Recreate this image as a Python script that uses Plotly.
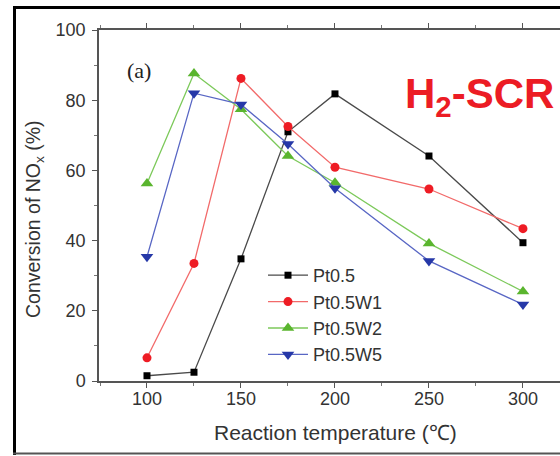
import plotly.graph_objects as go

# Reaction temperatures (°C) and NOx conversion (%) per catalyst
temperature = [100, 125, 150, 175, 200, 250, 300]
pt05 = [1.5, 2.5, 34.8, 71.0, 81.8, 64.1, 39.4]
pt05w1 = [6.6, 33.5, 86.2, 72.5, 60.9, 54.7, 43.4]
pt05w2 = [56.3, 87.6, 77.4, 64.1, 56.5, 39.2, 25.5]
pt05w5 = [35.4, 82.0, 78.8, 67.5, 54.9, 34.2, 21.8]

series_names = ["Pt0.5", "Pt0.5W1", "Pt0.5W2", "Pt0.5W5"]
x_ticks = [100, 150, 200, 250, 300]
y_ticks = [0, 20, 40, 60, 80, 100]

W, H = 560, 456
ML, MR, MT, MB = 99, 0, 30, 75
PW, PH = W - ML - MR, H - MT - MB


def px(x):
    return (x - ML) / PW


def py(y):
    return (H - MB - y) / PH


styles = [
    dict(line="#4a4a4a", marker="#000000", symbol="square", size=7),
    dict(line="#f26a6a", marker="#ee1c24", symbol="circle", size=9),
    dict(line="#7cc95a", marker="#5ab52e", symbol="triangle-up", size=11),
    dict(line="#5866c4", marker="#2638a8", symbol="triangle-down", size=11),
]

fig = go.Figure()
for name, vals, st in zip(series_names, [pt05, pt05w1, pt05w2, pt05w5], styles):
    fig.add_trace(go.Scatter(
        x=temperature, y=vals, name=name, mode="lines+markers",
        line=dict(color=st["line"], width=1.3),
        marker=dict(color=st["marker"], symbol=st["symbol"], size=st["size"],
                    line=dict(width=0)),
    ))

axis_font = dict(family="Liberation Sans, Arial, sans-serif", size=18, color="#333333")

fig.update_xaxes(
    range=[74.47, 319.7], tickvals=x_ticks, showgrid=False, zeroline=False,
    showline=True, linecolor="#555555", linewidth=1.5, mirror="ticks",
    ticks="outside", ticklen=5, tickwidth=1.2, tickcolor="#555555",
    minor=dict(dtick=25, tick0=0, ticks="outside", ticklen=3, tickcolor="#777777"),
    tickfont=axis_font, ticklabelstandoff=-4,
)
fig.update_yaxes(
    range=[0, 100], tickvals=y_ticks, showgrid=False, zeroline=False,
    showline=True, linecolor="#555555", linewidth=1.5,
    ticks="outside", ticklen=5, tickwidth=1.2, tickcolor="#555555",
    minor=dict(dtick=10, tick0=0, ticks="outside", ticklen=3, tickcolor="#777777"),
    tickfont=axis_font, ticklabelstandoff=3,
)

annotations = [
    dict(text="(a)", x=px(139), y=py(71), xanchor="center", yanchor="middle",
         font=dict(family="Liberation Serif, Times New Roman, serif", size=22, color="#222222")),
    dict(text="<b>H<sub>2</sub>-SCR</b>", x=px(403), y=py(68), xanchor="left", yanchor="top",
         font=dict(family="Liberation Sans, Arial, sans-serif", size=42, color="#ec1c24")),
    dict(text="Reaction temperature (℃)", x=px(335), y=py(432), xanchor="center", yanchor="middle",
         font=dict(family="Liberation Sans, Arial, sans-serif", size=21, color="#333333")),
    dict(text="Conversion of NO<sub>x</sub> (%)", x=px(34), y=py(219), xanchor="center",
         yanchor="middle", textangle=-90,
         font=dict(family="Liberation Sans, Arial, sans-serif", size=19.5, color="#333333")),
]
for a in annotations:
    a.update(xref="paper", yref="paper", showarrow=False)

# outer frame around the panel
frame = [
    dict(x0=px(14.5), x1=px(14.5), y0=py(6), y1=py(455)),
    dict(x0=px(13), x1=px(W + 5), y0=py(7.5), y1=py(7.5)),
]
shapes = [dict(type="line", xref="paper", yref="paper", line=dict(color="#000000", width=3), **f)
          for f in frame]
shapes.append(dict(type="line", xref="paper", yref="paper", x0=px(13), x1=px(W + 5),
                   y0=py(453.5), y1=py(453.5), line=dict(color="#555555", width=2)))

fig.update_layout(
    width=W, height=H, margin=dict(l=ML, r=MR, t=MT, b=MB),
    paper_bgcolor="white", plot_bgcolor="white",
    showlegend=True,
    legend=dict(x=px(263), y=py(257), xanchor="left", yanchor="top",
                bgcolor="rgba(0,0,0,0)", font=axis_font, itemwidth=40,
                tracegroupgap=0),
    annotations=annotations, shapes=shapes,
)

fig.write_html("out.html")
